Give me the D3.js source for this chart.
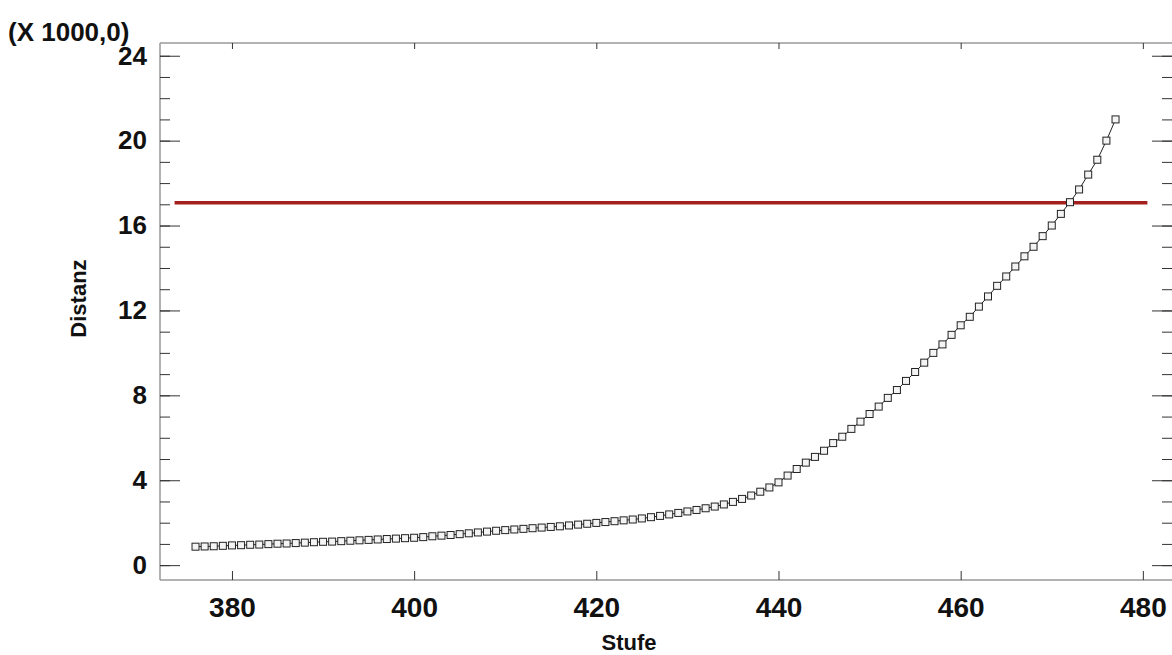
<html>
<head>
<meta charset="utf-8"/>
<script src="https://d3js.org/d3.v7.min.js"></script>
<style type="text/css">
body {
  margin: 0;
  overflow: hidden;
  background: #fff;
  font-family: "Liberation Sans", Arial, Helvetica, sans-serif;
}
.axis path { stroke: #999; }
.axis line { stroke: #333; }
.axis text { font-weight: bold; fill: #111; }
</style>
</head>
<body>
<div id="v"></div>
<script type="text/javascript">
// Stufe (step) and Distanz (in thousands)
var stufe = d3.range(376, 478);
var distanz = [
  0.87, 0.88, 0.89, 0.91, 0.93, 0.94, 0.96, 0.97, 0.99, 1.01,
  1.02, 1.04, 1.06, 1.08, 1.10, 1.11, 1.13, 1.15, 1.17, 1.19,
  1.21, 1.23, 1.25, 1.27, 1.29, 1.32, 1.36, 1.39, 1.42, 1.46,
  1.50, 1.54, 1.58, 1.62, 1.65, 1.68, 1.71, 1.74, 1.77, 1.80,
  1.83, 1.87, 1.91, 1.95, 1.99, 2.03, 2.07, 2.11, 2.15, 2.20,
  2.26, 2.32, 2.39, 2.46, 2.53, 2.60, 2.68, 2.76, 2.86, 2.98,
  3.12, 3.28, 3.46, 3.66, 3.90, 4.22, 4.53, 4.83, 5.10, 5.39,
  5.75, 6.05, 6.42, 6.76, 7.12, 7.47, 7.88, 8.25, 8.68, 9.10,
  9.54, 10.00, 10.40, 10.85, 11.30, 11.70, 12.18, 12.66, 13.16, 13.60,
  14.07, 14.55, 15.00, 15.50, 16.00, 16.55, 17.10, 17.70, 18.40, 19.10,
  20.00, 21.00
];
var xTicks = [380, 400, 420, 440, 460, 480];
var yTicks = [0, 4, 8, 12, 16, 20, 24];
var yMinorTicks = d3.range(0, 25, 1);
var cutoff = 17.07;
var scaleNote = "(X 1000,0)";

var width = 1172, height = 655;
var pLeft = 160, pRight = 1172, pTop = 43, pBottom = 580;

var svg = d3.select("#v").append("svg")
  .attr("width", width)
  .attr("height", height);

var x = d3.scaleLinear().domain([372.1, 483.2]).range([pLeft, pRight]);
var y = d3.scaleLinear().domain([-0.7, 24.6]).range([pBottom, pTop]);

// frame lines
svg.append("line").attr("x1", pLeft).attr("x2", pRight).attr("y1", pTop).attr("y2", pTop)
  .attr("stroke", "#999").attr("stroke-width", 1.5);
svg.append("line").attr("x1", pLeft).attr("x2", pRight).attr("y1", pBottom).attr("y2", pBottom)
  .attr("stroke", "#999").attr("stroke-width", 1.5);
svg.append("line").attr("x1", pLeft).attr("x2", pLeft).attr("y1", pTop).attr("y2", pBottom)
  .attr("stroke", "#999").attr("stroke-width", 1.5);

// left axis, major + minor ticks pointing inward
svg.append("g").attr("class", "axis")
  .attr("transform", "translate(" + pLeft + ",0)")
  .call(d3.axisLeft(y).tickValues(yMinorTicks).tickSize(-10).tickFormat(""))
  .call(function(g) { g.select(".domain").remove(); });
svg.append("g").attr("class", "axis")
  .attr("transform", "translate(" + pLeft + ",0)")
  .call(d3.axisLeft(y).tickValues(yTicks).tickSize(-20).tickPadding(13).tickFormat(d3.format("d")))
  .call(function(g) {
    g.select(".domain").remove();
    g.selectAll("text").style("font-size", "26px");
  });

// right axis ticks
svg.append("g").attr("class", "axis")
  .attr("transform", "translate(" + pRight + ",0)")
  .call(d3.axisRight(y).tickValues(yMinorTicks).tickSize(-10).tickFormat(""))
  .call(function(g) { g.select(".domain").remove(); });
svg.append("g").attr("class", "axis")
  .attr("transform", "translate(" + pRight + ",0)")
  .call(d3.axisRight(y).tickValues(yTicks).tickSize(-20).tickFormat(""))
  .call(function(g) { g.select(".domain").remove(); });

// bottom axis
svg.append("g").attr("class", "axis")
  .attr("transform", "translate(0," + pBottom + ")")
  .call(d3.axisBottom(x).tickValues(xTicks).tickSize(-9).tickPadding(17).tickFormat(d3.format("d")))
  .call(function(g) {
    g.select(".domain").remove();
    g.selectAll("text").style("font-size", "28px");
  });
// top axis ticks
svg.append("g").attr("class", "axis")
  .attr("transform", "translate(0," + pTop + ")")
  .call(d3.axisTop(x).tickValues(xTicks).tickSize(-6).tickFormat(""))
  .call(function(g) { g.select(".domain").remove(); });

// cutoff line
svg.append("line")
  .attr("x1", x(373.7)).attr("x2", x(480.5))
  .attr("y1", y(cutoff)).attr("y2", y(cutoff))
  .attr("stroke", "#a3201f")
  .attr("stroke-width", 3.5);

var pts = stufe.map(function(s, i) { return [s, distanz[i]]; });

svg.append("path")
  .datum(pts)
  .attr("fill", "none")
  .attr("stroke", "#222")
  .attr("stroke-width", 1)
  .attr("d", d3.line().x(function(d) { return x(d[0]); }).y(function(d) { return y(d[1]); }));

var ms = 7;
svg.selectAll(".pt")
  .data(pts).enter()
  .append("rect")
  .attr("class", "pt")
  .attr("x", function(d) { return x(d[0]) - ms / 2; })
  .attr("y", function(d) { return y(d[1]) - ms / 2; })
  .attr("width", ms)
  .attr("height", ms)
  .attr("fill", "#f4f4f4")
  .attr("stroke", "#222")
  .attr("stroke-width", 1);

// titles
svg.append("text")
  .attr("x", 8).attr("y", 41)
  .style("font-size", "26px").style("font-weight", "bold").attr("fill", "#111")
  .text(scaleNote);

svg.append("text")
  .attr("x", (pLeft + pRight) / 2 - 37).attr("y", 650)
  .attr("text-anchor", "middle")
  .style("font-size", "22px").style("font-weight", "bold").attr("fill", "#111")
  .text("Stufe");

svg.append("text")
  .attr("transform", "translate(86," + ((pTop + pBottom) / 2 - 13) + ") rotate(-90)")
  .attr("text-anchor", "middle")
  .style("font-size", "22px").style("font-weight", "bold").attr("fill", "#111")
  .text("Distanz");
</script>
</body>
</html>
